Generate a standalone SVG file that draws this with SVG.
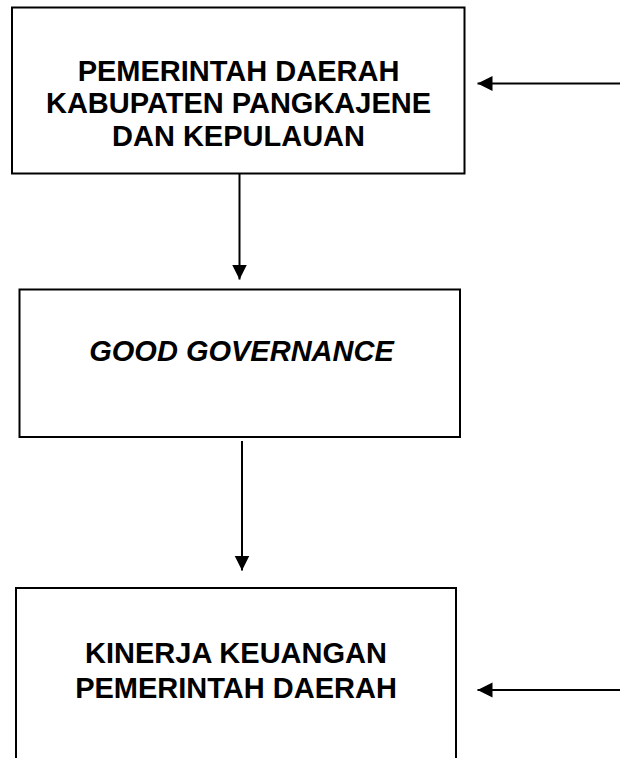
<svg xmlns="http://www.w3.org/2000/svg" width="620" height="758" viewBox="0 0 620 758">
  <style>
    .box { fill: #ffffff; stroke: #000000; stroke-width: 2; }
    .lbl { font-family: "Liberation Sans", Arial, sans-serif; font-size: 29px; font-weight: bold; fill: #000000; text-anchor: middle; }
    .it { font-style: italic; }
    .conn { stroke: #000000; stroke-width: 2; fill: none; marker-end: url(#arrow); }
  </style>
  <defs>
    <marker id="arrow" markerUnits="userSpaceOnUse" markerWidth="16" markerHeight="16" refX="15" refY="7.5" orient="auto" viewBox="0 0 16 16">
      <path d="M0,0 L15,7.5 L0,15 z" fill="#000000"/>
    </marker>
  </defs>
  <rect x="0" y="0" width="620" height="758" fill="#ffffff"/>
  <g id="node-pemda">
    <rect class="box" x="12" y="7.5" width="452.5" height="166"/>
    <text class="lbl" x="238.5" y="81">PEMERINTAH DAERAH</text>
    <text class="lbl" x="238.5" y="113">KABUPATEN PANGKAJENE</text>
    <text class="lbl" x="238.5" y="146">DAN KEPULAUAN</text>
  </g>
  <g id="node-good-governance">
    <rect class="box" x="19.5" y="289.5" width="440.5" height="147.5"/>
    <text class="lbl it" x="241.5" y="361">GOOD GOVERNANCE</text>
  </g>
  <g id="node-kinerja">
    <rect class="box" x="16" y="588" width="440" height="200"/>
    <text class="lbl" x="236" y="662.5">KINERJA KEUANGAN</text>
    <text class="lbl" x="236" y="698">PEMERINTAH DAERAH</text>
  </g>
  <g id="connectors">
    <line class="conn" x1="239.5" y1="174" x2="239.5" y2="279.5"/>
    <line class="conn" x1="242" y1="441" x2="242" y2="570.5"/>
    <line class="conn" x1="620" y1="83.5" x2="477.5" y2="83.5"/>
    <line class="conn" x1="620" y1="690" x2="477.5" y2="690"/>
  </g>
</svg>
